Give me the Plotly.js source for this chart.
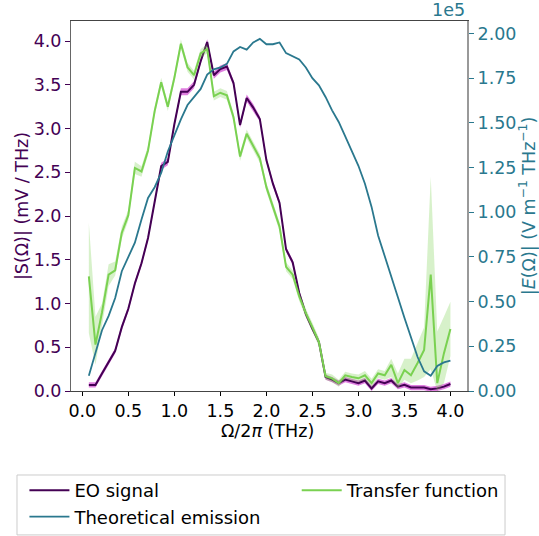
<!DOCTYPE html>
<html>
<head>
<meta charset="utf-8">
<script src="https://cdn.plot.ly/plotly-3.0.1.min.js"></script>
<style>html,body{margin:0;padding:0;background:#fff}#chart{width:539px;height:536px}</style>
</head>
<body>
<div id="chart"></div>
<script>
// Frequency axis Ω/2π (THz)
const freq = [0.071,0.143,0.214,0.286,0.357,0.429,0.500,0.571,0.643,0.714,0.786,0.857,0.929,1.000,1.071,1.143,1.214,1.286,1.357,1.429,1.500,1.571,1.643,1.714,1.786,1.857,1.929,2.000,2.071,2.143,2.214,2.286,2.357,2.429,2.500,2.571,2.643,2.714,2.786,2.857,2.929,3.000,3.071,3.143,3.214,3.286,3.357,3.429,3.500,3.571,3.643,3.714,3.786,3.857,3.929,4.000];

// EO signal |S(Ω)| (mV/THz)
const eoSignal = [0.07,0.07,0.20,0.33,0.46,0.73,0.94,1.23,1.46,1.75,2.14,2.57,2.62,3.05,3.42,3.42,3.50,3.77,3.99,3.61,3.68,3.71,3.52,3.04,3.35,3.24,3.11,2.64,2.37,2.15,1.62,1.47,1.12,0.88,0.71,0.56,0.16,0.13,0.09,0.13,0.11,0.09,0.12,0.03,0.11,0.09,0.12,0.05,0.07,0.04,0.04,0.04,0.02,0.03,0.05,0.08];
const eoErr = [0.03,0.03,0.03,0.03,0.03,0.03,0.03,0.03,0.03,0.03,0.03,0.04,0.04,0.03,0.04,0.04,0.04,0.03,0.03,0.04,0.04,0.04,0.03,0.03,0.04,0.04,0.03,0.03,0.03,0.03,0.03,0.03,0.03,0.03,0.03,0.03,0.03,0.03,0.03,0.03,0.03,0.03,0.03,0.03,0.03,0.03,0.03,0.03,0.03,0.03,0.03,0.03,0.03,0.03,0.03,0.03];

// Transfer function (left axis units) with its uncertainty band
const transfer = [1.31,0.53,0.90,1.33,1.38,1.81,2.01,2.55,2.51,2.75,3.20,3.53,3.25,3.58,3.97,3.70,3.61,3.86,3.91,3.37,3.41,3.38,3.13,2.68,2.94,2.80,2.66,2.33,2.11,1.88,1.42,1.33,1.08,0.89,0.73,0.56,0.17,0.145,0.09,0.18,0.16,0.145,0.18,0.09,0.20,0.18,0.30,0.09,0.24,0.18,0.32,0.47,1.33,0.09,0.43,0.71];
const transferLo = [0.66,0.30,0.75,1.20,1.32,1.74,1.95,2.48,2.45,2.70,3.15,3.48,3.20,3.53,3.92,3.65,3.56,3.81,3.86,3.32,3.36,3.33,3.08,2.63,2.89,2.75,2.61,2.28,2.06,1.83,1.37,1.28,1.03,0.84,0.68,0.51,0.13,0.10,0.05,0.14,0.12,0.10,0.13,0.04,0.15,0.13,0.16,0.03,0.13,0.09,0.12,0.16,0.25,0.00,0.09,0.40];
const transferHi = [1.92,0.85,1.00,1.45,1.48,1.88,2.07,2.62,2.57,2.80,3.25,3.58,3.30,3.63,4.02,3.75,3.66,3.91,3.96,3.42,3.46,3.43,3.18,2.73,2.99,2.85,2.71,2.38,2.16,1.93,1.47,1.38,1.13,0.94,0.78,0.61,0.21,0.19,0.13,0.22,0.20,0.19,0.23,0.14,0.25,0.23,0.37,0.20,0.37,0.37,0.55,0.73,2.45,0.68,0.85,1.02];

// Theoretical emission |E(Ω)| in units of 1e5 V m^-1 THz^-1
const emission_e5 = [0.085,0.22,0.34,0.42,0.52,0.67,0.75,0.83,0.96,1.08,1.14,1.22,1.34,1.43,1.52,1.60,1.645,1.69,1.77,1.80,1.81,1.83,1.90,1.925,1.91,1.95,1.97,1.94,1.94,1.95,1.89,1.87,1.855,1.81,1.75,1.71,1.645,1.57,1.505,1.425,1.34,1.26,1.16,1.03,0.87,0.75,0.645,0.525,0.41,0.30,0.19,0.11,0.085,0.14,0.16,0.17];

const xTicks = [0,0.5,1,1.5,2,2.5,3,3.5,4];
const yTicks = [0,0.5,1,1.5,2,2.5,3,3.5,4];
const y2Ticks = [0,0.25,0.5,0.75,1,1.25,1.5,1.75,2];

const PURPLE = '#440154', TEAL = '#2a788e', GREEN = '#7ad151';
const FONT = 'DejaVu Sans, sans-serif';
const FS = 17.5;

const eoLo = eoSignal.map((v,i)=>v-eoErr[i]);
const eoHi = eoSignal.map((v,i)=>v+eoErr[i]);

const traces = [
  {x:freq, y:eoLo, mode:'lines', line:{width:0}, showlegend:false, hoverinfo:'skip'},
  {x:freq, y:eoHi, mode:'lines', line:{width:0}, fill:'tonexty', fillcolor:'rgba(191,0,191,0.5)', showlegend:false, hoverinfo:'skip'},
  {x:freq, y:eoSignal, mode:'lines', name:'EO signal', line:{color:PURPLE, width:2}, legend:'legend', legendgroup:'a'},
  {x:freq, y:transferLo, mode:'lines', line:{width:0}, showlegend:false, hoverinfo:'skip'},
  {x:freq, y:transferHi, mode:'lines', line:{width:0}, fill:'tonexty', fillcolor:'rgba(122,209,81,0.3)', showlegend:false, hoverinfo:'skip'},
  {x:freq, y:transfer, mode:'lines', name:'Transfer function', line:{color:GREEN, width:2}, legend:'legend2'},
  {x:freq, y:emission_e5, mode:'lines', name:'Theoretical emission', yaxis:'y2', line:{color:TEAL, width:1.8}, legend:'legend', legendgroup:'b'}
];

const layout = {
  width:539, height:536,
  margin:{l:71, r:72, t:21, b:145, autoexpand:false},
  paper_bgcolor:'#fff', plot_bgcolor:'#fff',
  font:{family:FONT, size:FS, color:'#000'},
  xaxis:{range:[-0.123,4.18], tickvals:xTicks, tickformat:'.1f', ticks:'outside', ticklen:4, tickcolor:'#000',
    showline:true, linecolor:'#444', linewidth:1, mirror:true, showgrid:false, zeroline:false,
    tickfont:{size:FS}},
  yaxis:{range:[0,4.23], tickvals:yTicks, tickformat:'.1f', ticks:'outside', ticklen:5, tickcolor:PURPLE,
    showline:true, linecolor:'#666', linewidth:1, showgrid:false, zeroline:false,
    tickfont:{size:FS, color:PURPLE},
    title:{text:'|S(Ω)| (mV / THz)', font:{size:FS, color:PURPLE}, standoff:0}},
  yaxis2:{overlaying:'y', side:'right', range:[0,2.07], tickvals:y2Ticks, tickformat:'.2f', ticks:'outside', ticklen:5, tickcolor:TEAL,
    showline:true, linecolor:'#999', linewidth:2, showgrid:false, zeroline:false,
    tickfont:{size:FS, color:TEAL},
    title:{text:'|<i>E</i>(Ω)| (V m<sup>−1</sup> THz<sup>−1</sup>)', font:{size:FS, color:TEAL}, standoff:6}},
  legend:{x:-0.1176, xanchor:'left', y:-0.219, yanchor:'top', orientation:'v', traceorder:'grouped', tracegroupgap:0,
    bgcolor:'rgba(0,0,0,0)', borderwidth:0, font:{size:18, color:'#000'}, itemwidth:40},
  legend2:{x:0.570, xanchor:'left', y:-0.219, yanchor:'top', orientation:'v',
    bgcolor:'rgba(0,0,0,0)', borderwidth:0, font:{size:18, color:'#000'}, itemwidth:40},
  shapes:[{type:'rect', xref:'paper', yref:'paper', x0:-0.1364, x1:1.096, y0:-0.389, y1:-0.227,
    line:{color:'#cccccc', width:1}, fillcolor:'rgba(0,0,0,0)', layer:'below'}],
  annotations:[
    {text:'1e5', xref:'paper', yref:'paper', x:1.0, y:1.0, xanchor:'right', yanchor:'bottom', yshift:-1,
      showarrow:false, font:{size:FS, color:TEAL}},
    {text:'Ω/2<i>π</i> (THz)', xref:'paper', yref:'paper', x:0.496, y:-0.108, xanchor:'center', yanchor:'middle',
      showarrow:false, font:{size:FS, color:'#000'}}
  ]
};

Plotly.newPlot('chart', traces, layout, {displayModeBar:false, staticPlot:true});
</script>
</body>
</html>
